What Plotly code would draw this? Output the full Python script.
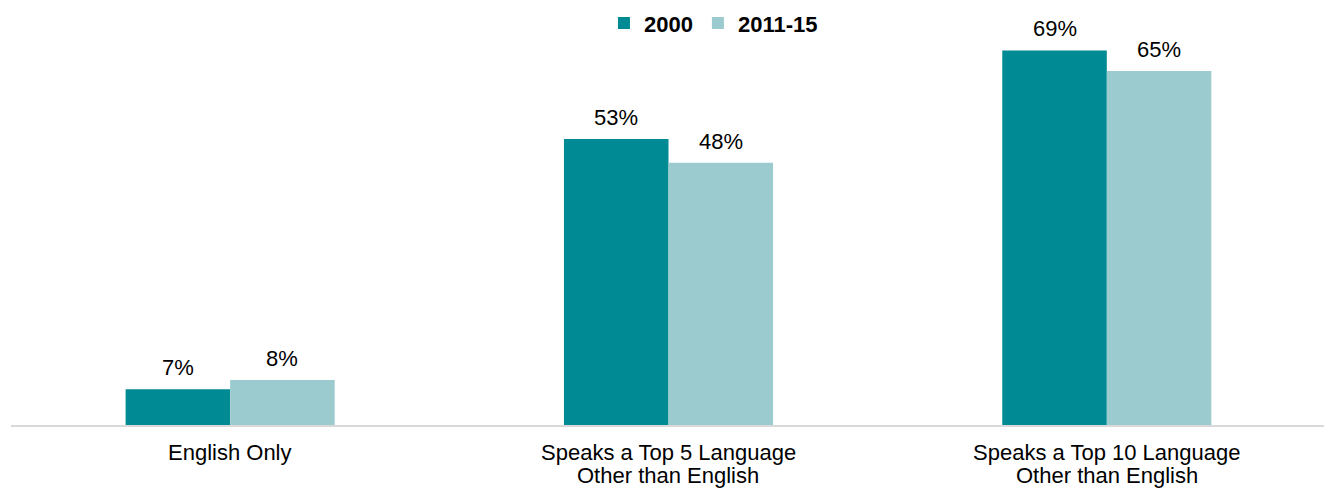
import plotly.graph_objects as go

categories_line1 = ["English Only", "Speaks a Top 5 Language", "Speaks a Top 10 Language"]
categories_line2 = ["", "Other than English", "Other than English"]
categories = ["English Only", "Top 5", "Top 10"]
series_names = ["2000", "2011-15"]
values_2000 = [6.6, 52.7, 69.0]
values_2011 = [8.3, 48.3, 65.2]
colors = ["#008A93", "#9BCBCE"]

W, H = 1324, 489
ML, MR, MT, MB = 11, 0, 0, 64
YMAX = 78.3
BARGAP = 0.523
XR = [-0.5, 2.4955]
FS = 22

fig = go.Figure()
for name, vals, col in zip(series_names, [values_2000, values_2011], colors):
    fig.add_trace(go.Bar(
        x=categories, y=vals, name=name, marker=dict(color=col, line=dict(width=0)),
        hoverinfo="skip",
    ))

font = "Liberation Sans, Arial, sans-serif"
plot_w = W - ML - MR
cat_w = plot_w / (XR[1] - XR[0])
bar_w = cat_w * (1 - BARGAP) / 2
annotations = []
for i, vals in enumerate([values_2000, values_2011]):
    shift = (-0.5 if i == 0 else 0.5) * bar_w
    for c, v in zip(categories, vals):
        annotations.append(dict(
            x=c, y=v, xref="x", yref="y", text=f"{round(v)}%", showarrow=False,
            xshift=shift, yanchor="bottom", yshift=7,
            font=dict(family=font, size=FS, color="#000000"),
        ))
for c, l1, l2 in zip(categories, categories_line1, categories_line2):
    annotations.append(dict(x=c, y=0, xref="x", yref="paper", text=l1, showarrow=False,
                            yanchor="top", yshift=-13,
                            font=dict(family=font, size=FS, color="#000000")))
    if l2:
        annotations.append(dict(x=c, y=0, xref="x", yref="paper", text=l2, showarrow=False,
                                yanchor="top", yshift=-36,
                                font=dict(family=font, size=FS, color="#000000")))

fig.update_layout(
    width=W, height=H,
    margin=dict(l=ML, r=MR, t=MT, b=MB, pad=0),
    paper_bgcolor="white", plot_bgcolor="white",
    barmode="group", bargap=BARGAP, bargroupgap=0,
    font=dict(family=font, size=FS, color="#000000"),
    showlegend=True,
    legend=dict(orientation="h", x=0.535, xanchor="center", y=0.995, yanchor="top",
                font=dict(family=font, size=FS, color="#000000", weight="bold"),
                itemclick=False, itemdoubleclick=False, tracegroupgap=0),
    xaxis=dict(range=XR, showticklabels=False, ticks="", showgrid=False, showline=True,
               linecolor="#D9D9D9", linewidth=2, zeroline=False, fixedrange=True),
    yaxis=dict(range=[0, YMAX], visible=False, showgrid=False, zeroline=False, fixedrange=True),
    annotations=annotations,
)

fig.write_html("out.html", config={"displayModeBar": False})
